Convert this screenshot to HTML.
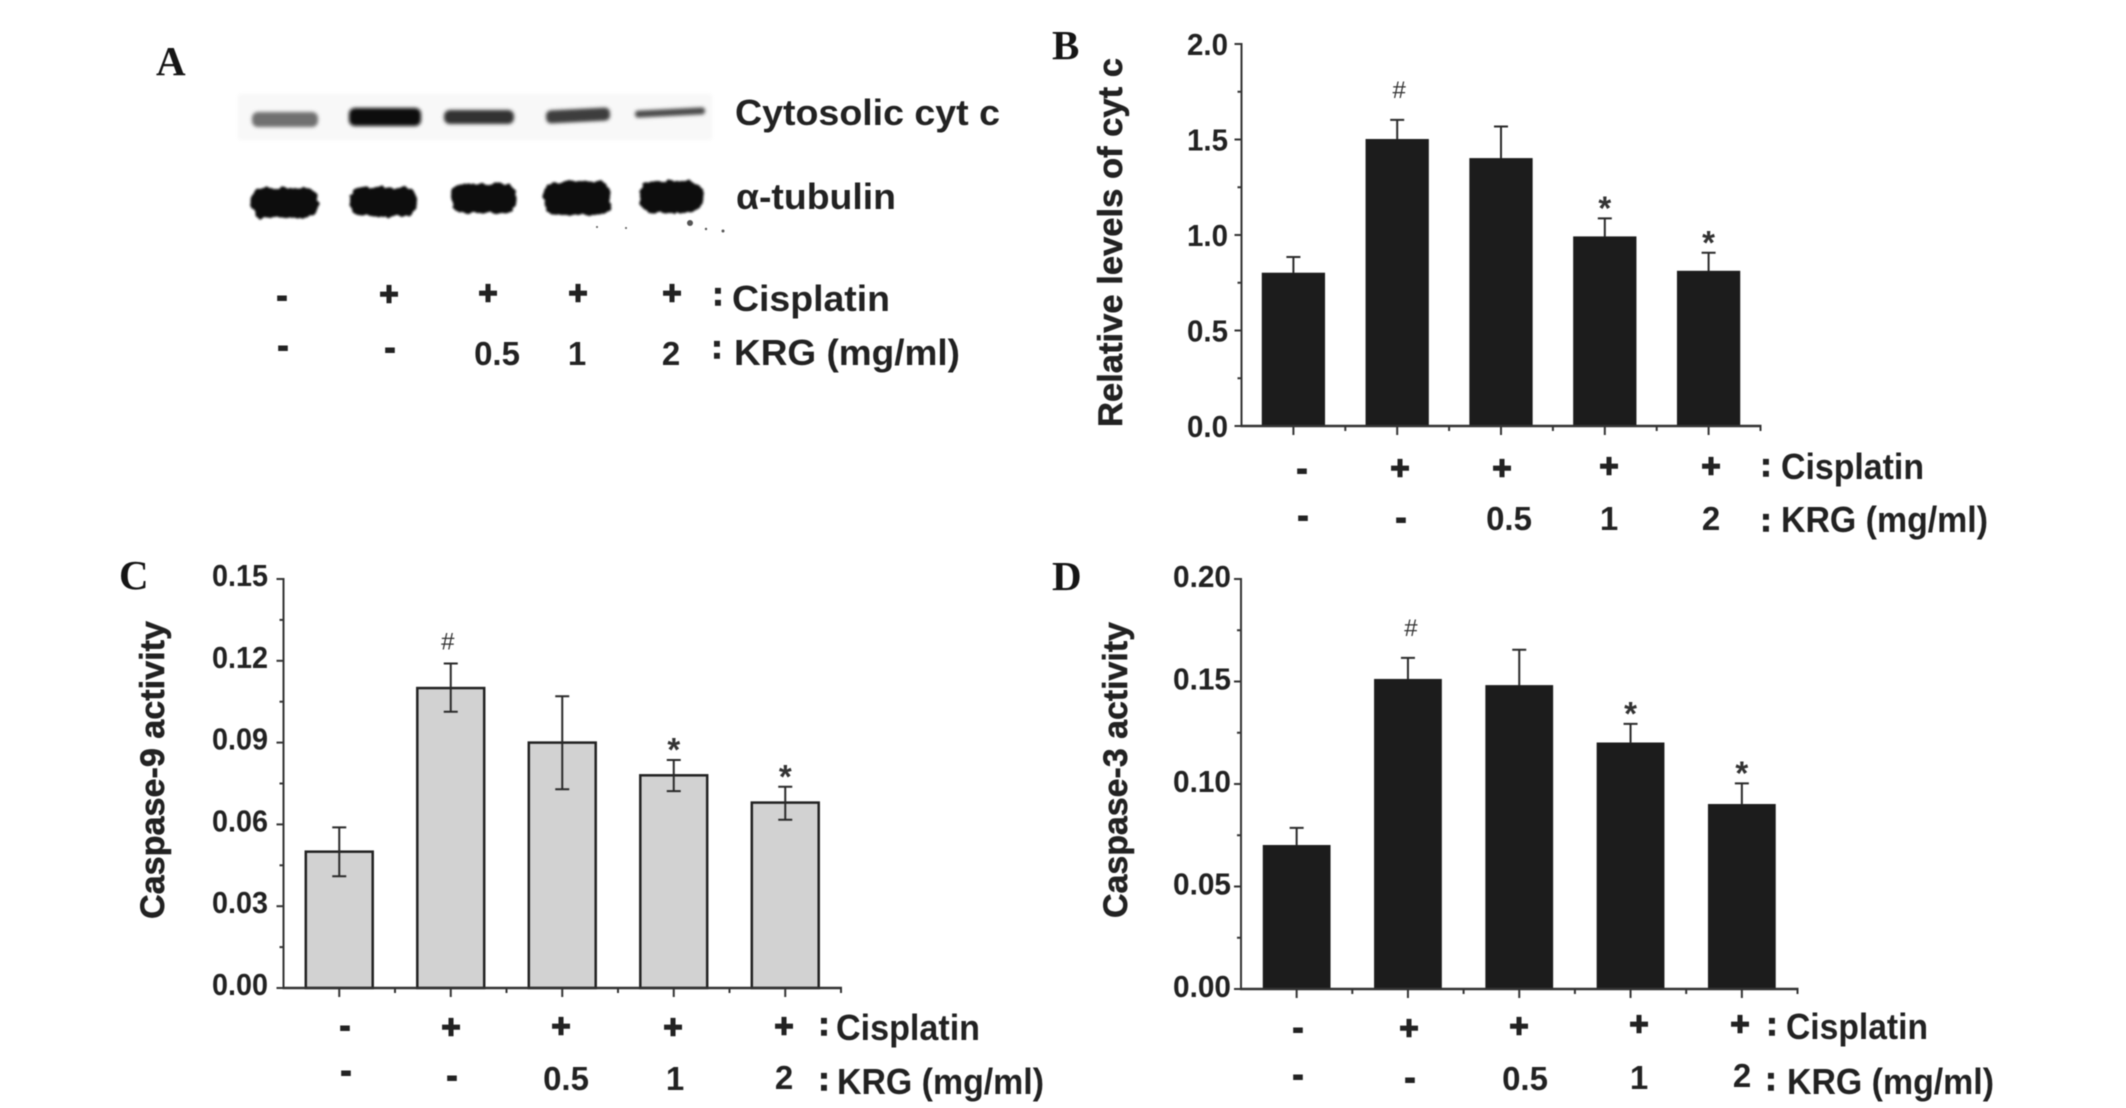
<!DOCTYPE html>
<html lang="en">
<head>
<meta charset="utf-8">
<title>Cytochrome c and caspase activity figure</title>
<style>
html,body{margin:0;padding:0;background:#fff;width:2126px;height:1108px;overflow:hidden}
svg{display:block;filter:blur(0.5px)}
text{font-family:"Liberation Sans",sans-serif;font-weight:bold;fill:#222}
.letter{font-family:"Liberation Serif",serif;font-size:41px;fill:#151515}
.lbl{font-size:36px}
.num{font-size:33px}
.mark{font-size:30px;text-anchor:middle;stroke:#222;stroke-width:2px}
.plus{font-size:33px;text-anchor:middle;stroke:#222;stroke-width:1.4px}
.colon{font-size:32px;text-anchor:middle;stroke:#222;stroke-width:1.4px}
.mid{text-anchor:middle}
</style>
</head>
<body>
<svg id="figure" width="2126" height="1108" viewBox="0 0 2126 1108" xmlns="http://www.w3.org/2000/svg">
<defs>
<filter id="rough" x="200" y="70" width="560" height="200" filterUnits="userSpaceOnUse">
<feTurbulence type="fractalNoise" baseFrequency="0.14" numOctaves="2" seed="4" result="n"/>
<feDisplacementMap in="SourceGraphic" in2="n" scale="6" xChannelSelector="R" yChannelSelector="G"/>
<feGaussianBlur stdDeviation="1.1"/>
</filter>
<filter id="soft" x="200" y="70" width="560" height="200" filterUnits="userSpaceOnUse">
<feGaussianBlur stdDeviation="1.8"/>
</filter>
</defs>
<rect width="2126" height="1108" fill="#fff"/>

<g id="panel-a">
<text class="letter" x="156" y="75">A</text>
<rect x="238" y="94" width="474" height="46" fill="#f8f8f8" filter="url(#soft)"/>
<g filter="url(#soft)">
<rect x="252" y="112" width="66" height="15" rx="6" fill="#6f6f6f"/>
<rect x="349" y="108" width="72" height="18" rx="6" fill="#0d0d0d"/>
<rect x="444" y="110" width="70" height="14" rx="6" fill="#333"/>
<rect x="546" y="109" width="64" height="13" rx="5" fill="#3c3c3c" transform="rotate(-3 578 115)"/>
<rect x="635" y="109" width="70" height="7" rx="3" fill="#4c4c4c" transform="rotate(-3 670 112)"/>
</g>
<g filter="url(#rough)">
<rect x="251" y="188" width="67" height="30" rx="12" fill="#111"/>
<rect x="350" y="187" width="67" height="29" rx="12" fill="#111"/>
<rect x="451" y="184" width="65" height="29" rx="12" fill="#111"/>
<rect x="544" y="182" width="67" height="33" rx="13" fill="#111"/>
<rect x="639" y="181" width="64" height="32" rx="14" fill="#111"/>
</g>
<g fill="#555">
<circle cx="690" cy="223" r="3"/>
<circle cx="706" cy="229" r="1.2"/>
<circle cx="723" cy="231" r="1.5"/>
<circle cx="597" cy="227" r="1"/>
<circle cx="626" cy="228" r="1"/>
</g>
<text class="lbl" x="735" y="125" textLength="265" lengthAdjust="spacingAndGlyphs">Cytosolic cyt c</text>
<text class="lbl" x="736" y="209" textLength="160" lengthAdjust="spacingAndGlyphs">α-tubulin</text>
<text class="mark" x="282" y="306">-</text>
<text class="plus" x="389" y="305">+</text>
<text class="plus" x="488" y="304">+</text>
<text class="plus" x="578" y="304">+</text>
<text class="plus" x="672" y="304">+</text>
<text class="colon" x="718" y="305">:</text>
<text class="lbl" x="732" y="311" textLength="158" lengthAdjust="spacingAndGlyphs">Cisplatin</text>
<text class="mark" x="283" y="356">-</text>
<text class="mark" x="390" y="358">-</text>
<text class="num mid" x="497" y="365">0.5</text>
<text class="num mid" x="577" y="365">1</text>
<text class="num mid" x="671" y="365">2</text>
<text class="colon" x="717" y="358">:</text>
<text class="lbl" x="734" y="365" textLength="226" lengthAdjust="spacingAndGlyphs">KRG (mg/ml)</text>
</g>

<g id="panel-b">
<text class="letter" x="1052" y="59">B</text>
<text class="mark" x="1302" y="479">-</text>
<text class="plus" x="1400" y="479">+</text>
<text class="plus" x="1502" y="479">+</text>
<text class="plus" x="1609" y="477">+</text>
<text class="plus" x="1711" y="477">+</text>
<text class="colon" x="1766" y="476">:</text>
<text class="lbl" x="1781" y="479" textLength="143" lengthAdjust="spacingAndGlyphs">Cisplatin</text>
<text class="mark" x="1303" y="526">-</text>
<text class="mark" x="1401" y="528">-</text>
<text class="num mid" x="1509" y="530">0.5</text>
<text class="num mid" x="1609" y="530">1</text>
<text class="num mid" x="1711" y="530">2</text>
<text class="colon" x="1766" y="531">:</text>
<text class="lbl" x="1781" y="532" textLength="207" lengthAdjust="spacingAndGlyphs">KRG (mg/ml)</text>
</g>

<g id="panel-c">
<text class="letter" x="119" y="589">C</text>
<text class="mark" x="345" y="1036">-</text>
<text class="plus" x="451" y="1038">+</text>
<text class="plus" x="561" y="1037">+</text>
<text class="plus" x="673" y="1038">+</text>
<text class="plus" x="784" y="1037">+</text>
<text class="colon" x="824" y="1035">:</text>
<text class="lbl" x="836" y="1040" textLength="144" lengthAdjust="spacingAndGlyphs">Cisplatin</text>
<text class="mark" x="346" y="1081">-</text>
<text class="mark" x="452" y="1086">-</text>
<text class="num mid" x="566" y="1090">0.5</text>
<text class="num mid" x="675" y="1090">1</text>
<text class="num mid" x="784" y="1089">2</text>
<text class="colon" x="824" y="1090">:</text>
<text class="lbl" x="837" y="1094" textLength="207" lengthAdjust="spacingAndGlyphs">KRG (mg/ml)</text>
</g>

<g id="panel-d">
<text class="letter" x="1052" y="590">D</text>
<text class="mark" x="1298" y="1038">-</text>
<text class="plus" x="1409" y="1039">+</text>
<text class="plus" x="1519" y="1037">+</text>
<text class="plus" x="1639" y="1035">+</text>
<text class="plus" x="1740" y="1035">+</text>
<text class="colon" x="1772" y="1035">:</text>
<text class="lbl" x="1786" y="1039" textLength="142" lengthAdjust="spacingAndGlyphs">Cisplatin</text>
<text class="mark" x="1298" y="1085">-</text>
<text class="mark" x="1410" y="1088">-</text>
<text class="num mid" x="1525" y="1090">0.5</text>
<text class="num mid" x="1639" y="1089">1</text>
<text class="num mid" x="1742" y="1087">2</text>
<text class="colon" x="1771" y="1090">:</text>
<text class="lbl" x="1787" y="1094" textLength="207" lengthAdjust="spacingAndGlyphs">KRG (mg/ml)</text>
</g>
</svg>

<script>
const categories = ["Control", "Cisplatin", "Cisplatin + KRG 0.5", "Cisplatin + KRG 1", "Cisplatin + KRG 2"];

const bTickLabels = ["0.0", "0.5", "1.0", "1.5", "2.0"];
const bValues = [0.80, 1.50, 1.40, 0.99, 0.81];
const bErrorUpper = [0.885, 1.603, 1.568, 1.087, 0.907];
const bMarkers = ["", "#", "", "*", "*"];

const cTickLabels = ["0.00", "0.03", "0.06", "0.09", "0.12", "0.15"];
const cValues = [0.050, 0.110, 0.090, 0.078, 0.068];
const cErrorUpper = [0.0589, 0.119, 0.107, 0.0836, 0.0738];
const cErrorLower = [0.041, 0.1013, 0.0729, 0.0722, 0.0617];
const cMarkers = ["", "#", "", "*", "*"];

const dTickLabels = ["0.00", "0.05", "0.10", "0.15", "0.20"];
const dValues = [0.070, 0.151, 0.148, 0.120, 0.090];
const dErrorUpper = [0.0786, 0.1615, 0.1655, 0.1293, 0.1003];
const dMarkers = ["", "#", "", "*", "*"];

const NS = "http://www.w3.org/2000/svg";

function shape(parent, tag, attrs, text) {
  const el = document.createElementNS(NS, tag);
  for (const k in attrs) el.setAttribute(k, attrs[k]);
  if (text !== undefined) el.textContent = text;
  parent.appendChild(el);
  return el;
}

function drawPanel(p) {
  const root = document.getElementById(p.id);
  const g = shape(root, "g", {});
  
  

  const yMax = Number(p.ticks[p.ticks.length - 1]);
  const yScale = v => p.y0 - (v / yMax) * (p.y0 - p.y1);
  const band = (p.x1 - p.x0) / p.values.length;
  const xScale = i => p.x0 + (i + 0.5) * band;
  const barW = band * 0.6;

  p.values.forEach((v, i) => {
    const bar = shape(g, "rect", {
      x: xScale(i) - barW / 2,
      y: yScale(v),
      width: barW,
      height: p.y0 - yScale(v),
      fill: p.fill,
      stroke: p.barStroke,
      "stroke-width": p.barStrokeWidth
    });
    
    
    const title = document.createElementNS(NS, "title");
    title.textContent = categories[i];
    bar.appendChild(title);

    const top = yScale(p.upper[i]);
    const bottom = p.lower ? yScale(p.lower[i]) : yScale(v);
    const cx = xScale(i);
    const err = shape(g, "path", {
      d: "M" + cx + " " + bottom + "V" + top +
         "M" + (cx - 7) + " " + top + "H" + (cx + 7) +
         (p.lower ? "M" + (cx - 7) + " " + bottom + "H" + (cx + 7) : ""),
      fill: "none",
      stroke: "#2a2a2a",
      "stroke-width": 2
    });
    
    

    if (p.markers[i]) {
      const isHash = p.markers[i] === "#";
      const mk = shape(g, "text", {
        x: cx + (isHash ? p.hashDx : 0),
        y: isHash ? top - p.hashGap : top + 1,
        "text-anchor": "middle",
        style: isHash ? "font-size:24px;font-weight:normal;fill:#333" : "font-size:33px;font-weight:bold;fill:#333"
      }, p.markers[i]);
      
      
    }

    const xt = shape(g, "line", {
      x1: cx, x2: cx, y1: p.y0, y2: p.y0 + 9, stroke: "#333", "stroke-width": 2
    });
    
    

    const xm = shape(g, "line", {
      x1: p.x0 + (i + 1) * band, x2: p.x0 + (i + 1) * band, y1: p.y0, y2: p.y0 + 5, stroke: "#333", "stroke-width": 2
    });
    
    
  });

  p.ticks.forEach((label, i) => {
    const val = Number(label);
    const ty = yScale(val);
    const tick = shape(g, "line", {
      x1: p.x0 - 7, x2: p.x0, y1: ty, y2: ty, stroke: "#333", "stroke-width": 2
    });
    
    

    const tl = shape(g, "text", {
      x: p.tickRight,
      y: ty + p.tickDy,
      "text-anchor": "end",
      textLength: p.tickWidth,
      lengthAdjust: "spacingAndGlyphs",
      style: "font-size:31px"
    }, label);
    
    

    if (i < p.ticks.length - 1) {
      const my = yScale((val + Number(p.ticks[i + 1])) / 2);
      const minor = shape(g, "line", {
        x1: p.x0 - 4, x2: p.x0, y1: my, y2: my, stroke: "#333", "stroke-width": 2
      });
      
      
    }
  });

  const yAxis = shape(g, "line", {
    x1: p.x0, x2: p.x0, y1: p.y1 - 1, y2: p.y0 + 1, stroke: "#333", "stroke-width": 2
  });
  
  

  const xAxis = shape(g, "line", {
    x1: p.x0 - 1, x2: p.x1 + 1, y1: p.y0, y2: p.y0, stroke: "#333", "stroke-width": 2.5
  });
  
  

  const yt = shape(g, "text", {
    transform: "translate(" + p.titleX + " " + p.titleBottom + ") rotate(-90)",
    textLength: p.titleLength,
    lengthAdjust: "spacingAndGlyphs",
    style: "font-size:34px;stroke:#222;stroke-width:0.5px"
  }, p.title);
  
  
}

drawPanel({
  id: "panel-b", prefix: "b", x0: 1241.5, x1: 1760.5, y0: 426, y1: 44,
  ticks: bTickLabels, values: bValues, upper: bErrorUpper, lower: null, markers: bMarkers,
  fill: "#1c1c1c", barStroke: "#1c1c1c", barStrokeWidth: 1,
  tickRight: 1228, tickDy: 11, tickWidth: 41, hashGap: 22, hashDx: 2, title: "Relative levels of cyt c",
  titleX: 1122, titleBottom: 427, titleLength: 369
});
drawPanel({
  id: "panel-c", prefix: "c", x0: 283.5, x1: 841, y0: 988, y1: 579,
  ticks: cTickLabels, values: cValues, upper: cErrorUpper, lower: cErrorLower, markers: cMarkers,
  fill: "#d2d2d2", barStroke: "#222", barStrokeWidth: 2.5,
  tickRight: 268, tickDy: 7, tickWidth: 56, hashGap: 14, hashDx: -3, title: "Caspase-9 activity",
  titleX: 164, titleBottom: 919, titleLength: 298
});
drawPanel({
  id: "panel-d", prefix: "d", x0: 1241, x1: 1797.5, y0: 989, y1: 579,
  ticks: dTickLabels, values: dValues, upper: dErrorUpper, lower: null, markers: dMarkers,
  fill: "#1c1c1c", barStroke: "#1c1c1c", barStrokeWidth: 1,
  tickRight: 1231, tickDy: 8, tickWidth: 58, hashGap: 22, hashDx: 3, title: "Caspase-3 activity",
  titleX: 1127, titleBottom: 918, titleLength: 296
});
</script>
</body>
</html>
